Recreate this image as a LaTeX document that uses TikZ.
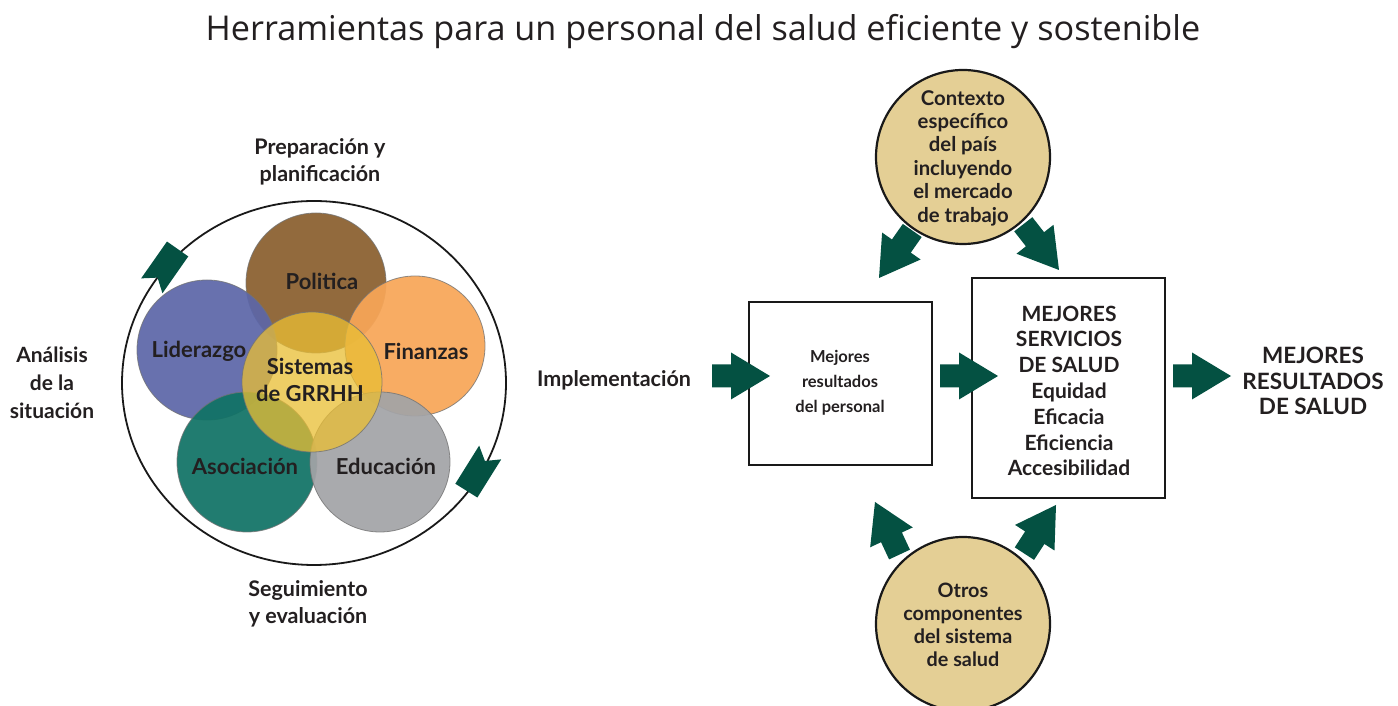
\documentclass[tikz,border=0pt]{standalone}
\usepackage{fontspec}
\setmainfont{Lato}
\newfontfamily\titlefont{Open Sans}
\definecolor{dgreen}{HTML}{045142}
\definecolor{pol}{HTML}{8A5F2E}
\definecolor{lid}{HTML}{5C66A8}
\definecolor{fin}{HTML}{F8A657}
\definecolor{aso}{HTML}{107265}
\definecolor{edu}{HTML}{A3A4A7}
\definecolor{sis}{HTML}{E9BE35}
\definecolor{ctx}{HTML}{E4CF95}
\definecolor{txt}{HTML}{231F20}
\tikzset{
  x=1pt, y=1pt,
  venn/.style={circle, minimum size=140pt, inner sep=0pt, draw=black!55, line width=0.8pt, fill opacity=0.93, draw opacity=0.8},
  vlabel/.style={font=\fontsize{22}{27}\selectfont\bfseries, text=txt},
  lbl/.style={font=\fontsize{21.5}{27}\selectfont\bfseries, text=txt, align=center},
  boxnode/.style={draw=black!90, line width=1.4pt, inner sep=0pt},
  ctxcircle/.style={circle, minimum size=174pt, inner sep=0pt, draw=black!90, line width=2.2pt, fill=ctx},
  bigarrow/.pic={\fill[dgreen] (0,0) -- (-39,23.5) -- (-39,11.5) -- (-58,11.5) -- (-58,-11.5) -- (-39,-11.5) -- (-39,-23.5) -- cycle;},
  ringarrow/.pic={\fill[dgreen] (22,-13) -- (22,13) -- (-23,13) -- (-13,0) -- (-23,-13) -- cycle;}
}
\begin{document}
\begin{tikzpicture}
\useasboundingbox (0,0) rectangle (1398,706);
% title
\node[font=\titlefont\fontsize{34.2}{40}\selectfont, text=txt] (title) at (703,674) {Herramientas para un personal del salud eficiente y sostenible};
% outer ring
\draw[line width=1.8pt, black!90] (314,323) ellipse [x radius=192, y radius=182];
\node[coordinate] (ringA) at (165,439) {};
\node[coordinate] (ringB) at (478,234) {};
\pic[rotate=55] at (ringA) {ringarrow};
\pic[rotate=238] at (ringB) {ringarrow};
% venn circles
\node[venn, fill=pol] (pol) at (316,423) {};
\node[venn, fill=lid] (lid) at (207,356) {};
\node[venn, fill=fin] (fin) at (415,360) {};
\node[venn, fill=aso] (aso) at (247,244) {};
\node[venn, fill=edu] (edu) at (380,244) {};
\node[venn, fill=sis, fill opacity=0.76] (sis) at (312,324) {};
\node[vlabel] at (322,425) {Politica};
\node[vlabel] at (199,355) {Liderazgo};
\node[vlabel] at (426,355) {Finanzas};
\node[vlabel] at (245,240) {Asociación};
\node[vlabel] at (386,240) {Educación};
\node[vlabel, align=center] at (310,326) {Sistemas\\de GRRHH};
% surrounding labels
\node[lbl] (prep) at (320,544) {Preparación y\\planificación};
\node[lbl, font=\fontsize{21}{28}\selectfont\bfseries] (anal) at (52,323) {Análisis\\de la\\situación};
\node[lbl] (seg) at (308,102) {Seguimiento\\y evaluación};
\node[lbl] (impl) at (614,326) {Implementación};
% boxes
\node[boxnode, minimum width=183pt, minimum height=163pt] (box1) at (840.5,322.5) {};
\node[lbl, font=\fontsize{16.5}{25}\selectfont\bfseries] at (840,323) {Mejores\\resultados\\del personal};
\node[boxnode, minimum width=193pt, minimum height=220pt] (box2) at (1068.5,318) {};
\node[lbl, font=\fontsize{21}{25.8}\selectfont\bfseries] at (1069,315) {MEJORES\\SERVICIOS\\DE SALUD\\Equidad\\Eficacia\\Eficiencia\\Accesibilidad};
\node[lbl, font=\fontsize{22.5}{25.5}\selectfont\bfseries] (res) at (1313,325) {MEJORES\\RESULTADOS\\DE SALUD};
% context circles
\node[ctxcircle] (ctx) at (963,549) {};
\node[lbl, font=\fontsize{20.3}{23.4}\selectfont\bfseries] at (963,548) {Contexto\\específico\\del país\\incluyendo\\el mercado\\de trabajo};
\node[ctxcircle] (otros) at (963,82) {};
\node[lbl, font=\fontsize{19.8}{23}\selectfont\bfseries] at (963,81) {Otros\\componentes\\del sistema\\de salud};
% block arrows
\pic at (770,330) {bigarrow};
\pic at (998,330) {bigarrow};
\pic at (1231,330) {bigarrow};
\pic[rotate=235] at (879,428) {bigarrow};
\pic[rotate=-52] at (1059,436) {bigarrow};
\pic[rotate=115] at (875,204) {bigarrow};
\pic[rotate=57] at (1056,201) {bigarrow};
\end{tikzpicture}
\end{document}
